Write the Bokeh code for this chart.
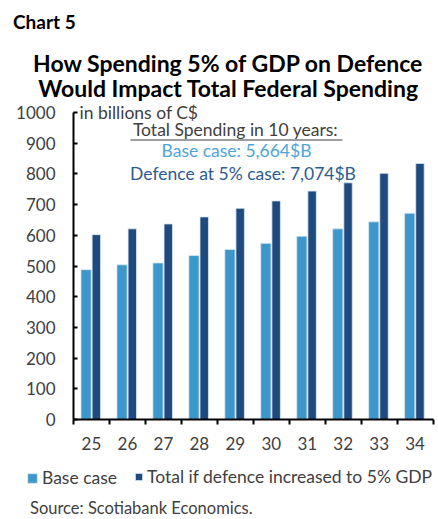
from bokeh.plotting import figure
from bokeh.models import (ColumnDataSource, FixedTicker, Label, Legend, LegendItem)
from bokeh.embed import file_html
from bokeh.resources import INLINE

# ---- data ----
years = ["25", "26", "27", "28", "29", "30", "31", "32", "33", "34"]
base_case = [488, 504, 510, 534, 554, 574, 597, 621, 644, 672]
defence_case = [602, 621, 637, 660, 688, 712, 744, 771, 802, 834]
y_ticks = [0, 100, 200, 300, 400, 500, 600, 700, 800, 900, 1000]
series_names = ["Base case", "Total if defence increased to 5% GDP"]
chart_label = "Chart 5"
title_lines = ["How Spending 5% of GDP on Defence", "Would Impact Total Federal Spending"]
unit_note = "in billions of C$"
box_head = "Total Spending in 10 years:"
box_base = "Base case: 5,664$B"
box_def = "Defence at 5% case: 7,074$B"
source_note = "Source: Scotiabank Economics."

BASE = "#3d97ca"
DARK = "#1f4a7e"
TXT = "#404040"
FONT = "Lato"

# ---- layout (pixels of the page) ----
W, H = 438, 519
AX_X0, PX_PER_CAT = 73.0, 35.96      # page x of category edge 0, px per category
AX_Y0, PX_PER_UNIT = 419.0, 0.307    # page y of value 0, px per value unit

n = len(years)
idx = list(range(n))


def X(px):
    return (px - AX_X0) / PX_PER_CAT


def Y(py):
    return (AX_Y0 - py) / PX_PER_UNIT


src = ColumnDataSource(dict(
    xb=[i + 0.35 for i in idx],
    xd=[i + 0.635 for i in idx],
    base=base_case,
    defence=defence_case,
))

p = figure(width=W, height=H, x_range=(X(0), X(W)), y_range=(Y(H), Y(0)),
           output_backend="svg", toolbar_location=None,
           min_border=0, min_border_left=0, min_border_right=0,
           min_border_top=0, min_border_bottom=0)
p.title.visible = False
p.outline_line_color = None
p.grid.visible = False
p.background_fill_color = "white"
p.border_fill_color = "white"

rb = p.vbar(x="xb", top="base", width=0.285, source=src,
            fill_color=BASE, line_color="#dce8f2", line_width=0.8)
rd = p.vbar(x="xd", top="defence", width=0.235, source=src,
            fill_color=DARK, line_color="#dce8f2", line_width=0.8)

# axes, pinned at the value origin
ya = p.yaxis[0]
ya.fixed_location = 0
ya.bounds = (y_ticks[0], y_ticks[-1])
ya.ticker = FixedTicker(ticks=y_ticks)
ya.axis_line_width = 2
ya.axis_line_color = "black"
ya.major_tick_in = 4
ya.major_tick_out = 0
ya.major_tick_line_width = 2
ya.minor_tick_line_color = None
ya.major_label_standoff = 18
ya.major_label_text_font = FONT
ya.major_label_text_font_size = "17px"
ya.major_label_text_color = TXT

xa = p.xaxis[0]
xa.fixed_location = 0
xa.bounds = (0, n)
xa.ticker = FixedTicker(ticks=[i + 0.5 for i in idx], minor_ticks=list(range(n + 1)))
xa.major_label_overrides = {i + 0.5: years[i] for i in idx}
xa.axis_line_width = 2
xa.axis_line_color = "black"
xa.major_tick_line_color = None
xa.major_tick_in = 0
xa.major_tick_out = 0
xa.minor_tick_in = 0
xa.minor_tick_out = 5
xa.minor_tick_line_width = 2
xa.minor_tick_line_color = "black"
xa.major_label_standoff = 12
xa.major_label_text_font = FONT
xa.major_label_text_font_size = "17px"
xa.major_label_text_color = TXT


def lab(text, x, y, size, color, align="left", bold=False):
    p.add_layout(Label(x=x, y=y, text=text, text_font=FONT, text_font_size=size,
                       text_color=color, text_align=align, text_baseline="middle",
                       text_font_style="bold" if bold else "normal"))


lab(chart_label, X(12.5), Y(21), "19px", "black", bold=True)
lab(title_lines[0], X(228), Y(62), "23px", "black", align="center", bold=True)
lab(title_lines[1], X(228), Y(87), "23px", "black", align="center", bold=True)
lab(unit_note, X(79), Y(111.5), "17.5px", TXT)
lab(box_head, X(235), Y(129), "17.5px", TXT, align="center")
lab(box_base, X(236), Y(150), "17.5px", "#4ea5d8", align="center")
lab(box_def, X(242.5), Y(173), "17.5px", "#2d5b92", align="center")
lab(source_note, X(29.5), Y(507.5), "16.5px", TXT)

# underline of box heading
p.segment(x0=[X(130)], x1=[X(342)], y0=[Y(139.5)], y1=[Y(139.5)],
          line_color=TXT, line_width=1.2)

# legends
leg1 = Legend(items=[LegendItem(label=series_names[0], renderers=[rb])],
              location=(26, H - 488), orientation="horizontal",
              glyph_width=12, glyph_height=12, label_standoff=4,
              padding=0, margin=0, spacing=0, border_line_color=None,
              background_fill_alpha=0, label_text_font=FONT,
              label_text_font_size="17.5px", label_text_color=TXT, label_height=12)
leg2 = Legend(items=[LegendItem(label=series_names[1], renderers=[rd])],
              location=(134, H - 487), orientation="horizontal",
              glyph_width=9, glyph_height=9, label_standoff=4,
              padding=0, margin=0, spacing=0, border_line_color=None,
              background_fill_alpha=0, label_text_font=FONT,
              label_text_font_size="17.5px", label_text_color=TXT, label_height=9)
p.add_layout(leg1, "center")
p.add_layout(leg2, "center")

open("out.html", "w").write(file_html(p, INLINE))
